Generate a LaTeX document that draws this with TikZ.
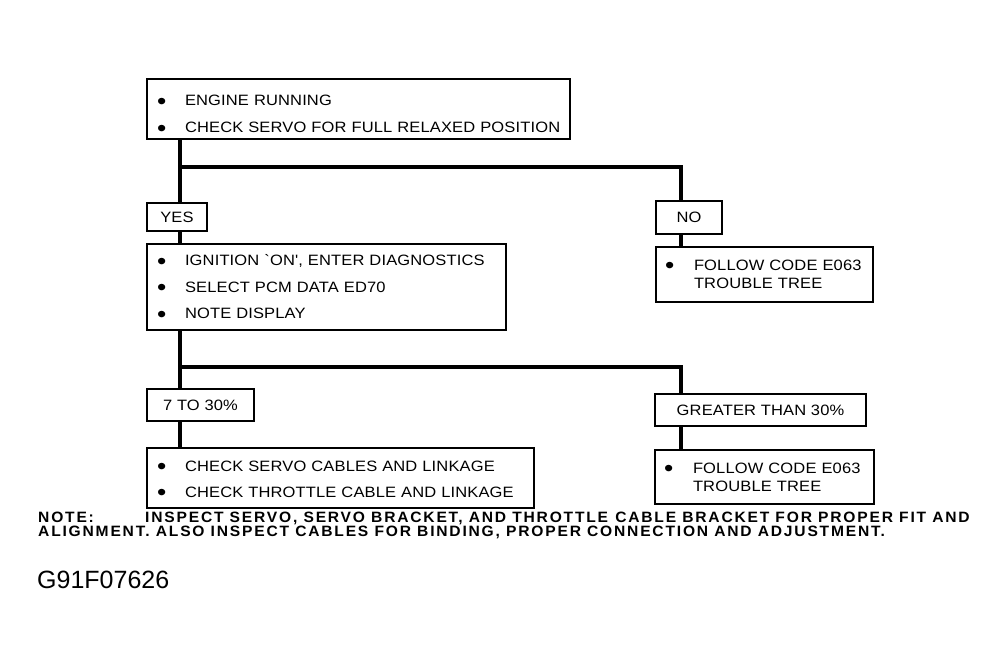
\documentclass[tikz,border=0pt]{standalone}
\usepackage{fontspec}
\usetikzlibrary{positioning}
\newfontfamily\boxfont[FakeStretch=1.1,LetterSpace=1]{Liberation Sans}
\newfontfamily\notefont[FakeStretch=1.04,LetterSpace=12]{Liberation Sans}
\newfontfamily\idfont{Liberation Sans}
\newcommand{\bigdot}{\raisebox{-3.3pt}{\fontsize{24}{0}\selectfont\textbullet}}
\newcommand{\itm}{\makebox[28pt][l]{\bigdot}}
\newcommand{\itmr}{\makebox[29pt][l]{\bigdot}}
\newcommand{\topgap}[1]{\rule{0pt}{#1}}
\tikzset{
  stepbox/.style={draw, line width=2pt, rectangle, anchor=north west, inner sep=0pt,
    font=\boxfont\fontsize{15}{26.5}\selectfont},
  listbox/.style={stepbox, align=left, inner xsep=10pt},
  trebox/.style={stepbox, align=left, inner xsep=9pt, font=\boxfont\fontsize{15}{18}\selectfont},
  flow/.style={line width=4pt},
  notetext/.style={anchor=base west, inner sep=0pt, font=\notefont\bfseries\fontsize{15}{14}\selectfont}
}
\begin{document}
\begin{tikzpicture}[x=1pt,y=-1pt]
\useasboundingbox (0,0) rectangle (999,663);
%%Boxes
\node[listbox, minimum width=423pt, minimum height=60pt, text width=403pt,
  font=\boxfont\fontsize{15}{27}\selectfont] (start) at (146,78)
  {\topgap{24pt}\itm ENGINE RUNNING\\ \itm CHECK SERVO FOR FULL RELAXED POSITION};
\node[stepbox, minimum width=60pt, minimum height=28pt] (yes) at (146,202) {YES};
\node[stepbox, minimum width=66pt, minimum height=33pt] (no) at (655,200) {NO};
\node[listbox, minimum width=359pt, minimum height=86pt, text width=339pt] (diag) at (146,243)
  {\topgap{14pt}\itm IGNITION `ON', ENTER DIAGNOSTICS\\ \itm SELECT PCM DATA ED70\\ \itm NOTE DISPLAY};
\node[trebox, minimum width=217pt, minimum height=55pt, text width=199pt] (nores) at (655,246)
  {\itmr FOLLOW CODE E063\\ \hspace*{29pt}TROUBLE TREE};
\node[stepbox, minimum width=107pt, minimum height=32pt] (low) at (146,388) {7 TO 30\%};
\node[stepbox, minimum width=211pt, minimum height=32pt] (high) at (654,393) {GREATER THAN 30\%};
\node[listbox, minimum width=387pt, minimum height=60pt, text width=367pt] (lowres) at (146,447)
  {\topgap{16pt}\itm CHECK SERVO CABLES AND LINKAGE\\ \itm CHECK THROTTLE CABLE AND LINKAGE};
\node[trebox, minimum width=219pt, minimum height=54pt, text width=201pt] (highres) at (654,449)
  {\itmr FOLLOW CODE E063\\ \hspace*{29pt}TROUBLE TREE};

%%Junctions
\coordinate (j1) at (180,167);
\coordinate (j1r) at (681,167);
\coordinate (j2) at (180,367);
\coordinate (j2r) at (681,367);

%%Connectors
\draw[flow] (start.south -| j1) -- (yes.north -| j1);
\draw[flow] (j1) -- (j1r) -- (no.north -| j1r);
\draw[flow] (yes.south -| j1) -- (diag.north -| j1);
\draw[flow] (no.south -| j1r) -- (nores.north -| j1r);
\draw[flow] (diag.south -| j2) -- (low.north -| j2);
\draw[flow] (j2) -- (j2r) -- (high.north -| j2r);
\draw[flow] (low.south -| j2) -- (lowres.north -| j2);
\draw[flow] (high.south -| j2r) -- (highres.north -| j2r);

%%Note
\node[notetext] (notehead) at (38,522) {NOTE:};
\node[notetext] (note1) at (145,522) {INSPECT SERVO, SERVO BRACKET, AND THROTTLE \hspace{1pt}CABLE BRACKET FOR PROPER FIT AND};
\node[notetext] (note2) at (38,536) {ALIGNMENT. ALSO INSPECT CABLES FOR BINDING, PROPER CONNECTION AND ADJUSTMENT.};
\node[anchor=base west, inner sep=0pt, font=\idfont\fontsize{25}{30}\selectfont] (figid) at (37,588) {G91F07626};

\end{tikzpicture}
\end{document}
